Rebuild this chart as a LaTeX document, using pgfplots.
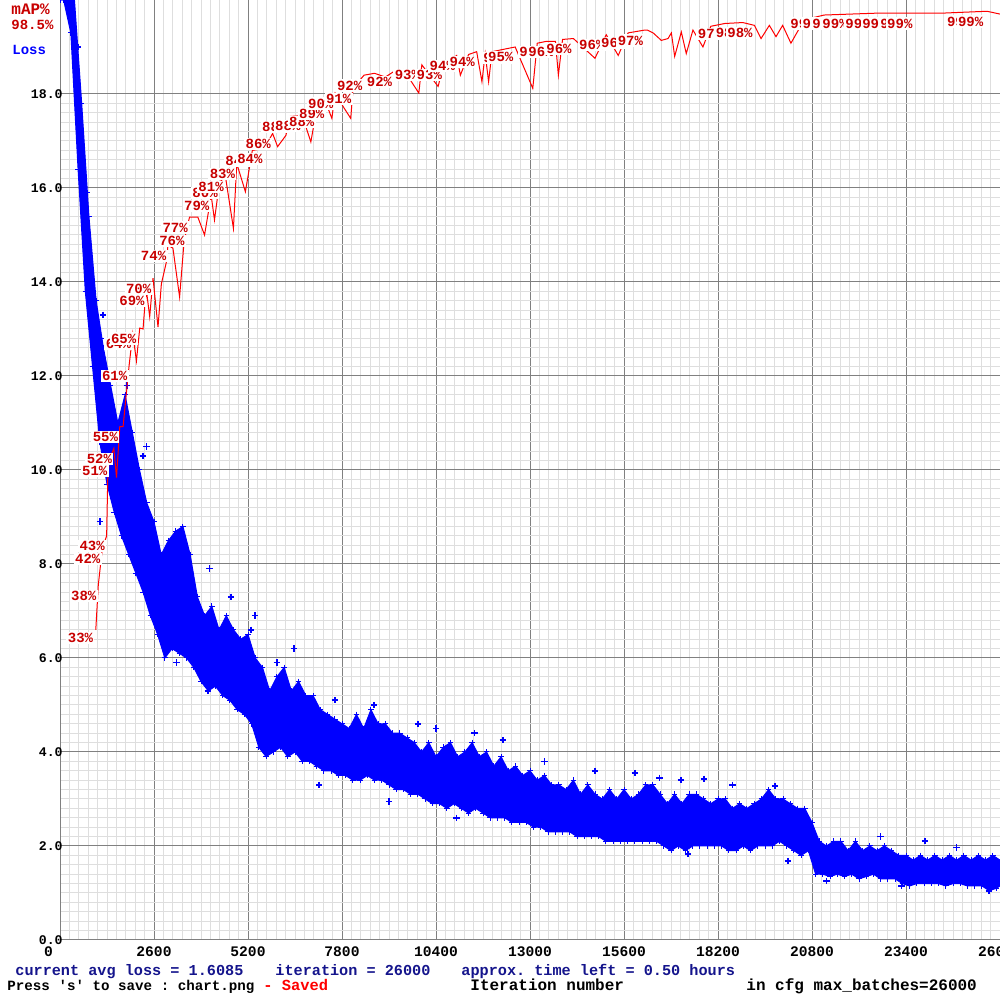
\documentclass[border=0pt]{standalone}
\usepackage{fontspec}
\setmonofont{Liberation Mono}
\usepackage{pgfplots}
\pgfplotsset{compat=1.18}
\usepgfplotslibrary{fillbetween}
\definecolor{mapred}{RGB}{200,0,0}
\definecolor{lossblue}{RGB}{0,0,255}
\definecolor{navytext}{RGB}{20,20,140}
\definecolor{majgrid}{RGB}{128,128,128}
\definecolor{mingrid}{RGB}{222,222,222}
\newcommand{\hf}{\ttfamily\bfseries}

\begin{document}
\begin{tikzpicture}
\begin{axis}[
  at={(30pt,30pt)}, anchor=south west,
  width=470pt, height=470pt, scale only axis,
  xmin=0, xmax=26000, ymin=0, ymax=20,
  axis x line*=bottom, axis y line*=left,
  axis line style={majgrid, line width=0.5pt, -},
  scaled x ticks=false, scaled y ticks=false,
  xtick={0,2600,5200,7800,10400,13000,15600,18200,20800,23400,26000},
  xticklabels={\makebox[0pt][r]{0\kern3.5pt},2600,5200,7800,10400,13000,15600,18200,20800,23400,26000},
  ytick={0,2,4,6,8,10,12,14,16,18},
  yticklabels={0.0,2.0,4.0,6.0,8.0,10.0,12.0,14.0,16.0,18.0},
  minor x tick num=9, minor y tick num=9,
  grid=both,
  major grid style={majgrid, line width=0.5pt},
  minor grid style={mingrid, line width=0.5pt},
  major tick length=0pt, minor tick length=0pt,
  xticklabel style={font=\hf\fontsize{7.3}{8}\selectfont, anchor=north, inner sep=0pt, yshift=-3pt},
  yticklabel style={font=\hf\fontsize{6.6}{8}\selectfont, anchor=east, inner sep=0pt, xshift=1.5pt},
  clip=true
]
% upper edge of the dense loss band
\addplot[name path=hi, lossblue, line width=0.5pt, mark=+, mark size=1.4pt] table {
x y
0 20
200 20
400 20
600 17.8
800 15.4
1000 13.6
1200 12.6
1400 11.8
1600 11.0
1800 11.6
2000 10.8
2200 10.0
2400 9.3
2600 8.9
2800 8.2
3000 8.5
3200 8.7
3400 8.8
3600 8.2
3800 7.3
4000 6.9
4200 7.1
4400 6.6
4600 6.9
4800 6.6
5000 6.4
5200 6.5
5400 6.0
5600 5.8
5800 5.3
6000 5.6
6200 5.8
6400 5.3
6600 5.5
6800 5.2
7000 5.2
7200 4.9
7400 4.8
7600 4.7
7800 4.6
8000 4.5
8200 4.8
8400 4.5
8600 4.9
8800 4.6
9000 4.6
9200 4.4
9400 4.4
9600 4.3
9800 4.2
10000 4.0
10200 4.2
10400 3.9
10600 4.1
10800 4.2
11000 3.9
11200 4.0
11400 4.2
11600 3.9
11800 4.0
12000 3.7
12200 3.9
12400 3.6
12600 3.7
12800 3.5
13000 3.6
13200 3.4
13400 3.5
13600 3.3
13800 3.3
14000 3.2
14200 3.4
14400 3.1
14600 3.3
14800 3.1
15000 3.0
15200 3.2
15400 3.0
15600 3.2
15800 3.0
16000 3.1
16200 3.3
16400 3.3
16600 3.1
16800 2.9
17000 3.1
17200 2.9
17400 3.1
17600 3.1
17800 3.0
18000 2.9
18200 3.0
18400 3.0
18600 2.8
18800 2.9
19000 2.8
19200 2.9
19400 3.0
19600 3.2
19800 3.0
20000 3.0
20200 2.9
20400 2.8
20600 2.8
20800 2.5
21000 2.1
21200 2.0
21400 2.1
21600 2.1
21800 1.9
22000 2.1
22200 1.9
22400 2.0
22600 1.9
22800 2.0
23000 1.9
23200 1.8
23400 1.8
23600 1.7
23800 1.8
24000 1.7
24200 1.8
24400 1.7
24600 1.8
24800 1.7
25000 1.8
25200 1.7
25400 1.8
25600 1.7
25800 1.8
26000 1.7
};
% lower edge of the dense loss band
\addplot[name path=lo, lossblue, line width=0.5pt, mark=+, mark size=1.4pt] table {
x y
0 20
100 20
300 19.3
500 16.4
700 13.8
900 12.2
1100 10.6
1300 9.7
1500 9.1
1700 8.6
1900 8.2
2100 7.8
2300 7.4
2500 6.9
2700 6.5
2900 6.0
3100 6.2
3300 6.1
3500 6.0
3700 5.8
3900 5.5
4100 5.3
4300 5.4
4500 5.2
4700 5.1
4900 4.9
5100 4.8
5300 4.6
5500 4.1
5700 3.9
5900 4.0
6100 4.1
6300 3.9
6500 4.0
6700 3.8
6900 3.8
7100 3.7
7300 3.6
7500 3.6
7700 3.5
7900 3.5
8100 3.4
8300 3.4
8500 3.5
8700 3.4
8900 3.4
9100 3.3
9300 3.2
9500 3.2
9700 3.1
9900 3.1
10100 3.0
10300 2.9
10500 2.9
10700 2.8
10900 2.9
11100 2.8
11300 2.7
11500 2.8
11700 2.7
11900 2.6
12100 2.6
12300 2.6
12500 2.5
12700 2.5
12900 2.5
13100 2.4
13300 2.4
13500 2.3
13700 2.3
13900 2.3
14100 2.3
14300 2.2
14500 2.2
14700 2.2
14900 2.2
15100 2.1
15300 2.1
15500 2.1
15700 2.1
15900 2.1
16100 2.1
16300 2.1
16500 2.1
16700 2.0
16900 1.9
17100 2.0
17300 1.9
17500 2.0
17700 2.0
17900 2.0
18100 2.0
18300 2.0
18500 1.9
18700 1.9
18900 2.0
19100 1.9
19300 2.0
19500 2.0
19700 2.0
19900 2.1
20100 2.0
20300 1.9
20500 1.8
20700 1.9
20900 1.4
21100 1.4
21300 1.35
21500 1.4
21700 1.35
21900 1.4
22100 1.3
22300 1.35
22500 1.4
22700 1.3
22900 1.3
23100 1.3
23300 1.2
23500 1.15
23700 1.2
23900 1.2
24100 1.2
24300 1.2
24500 1.15
24700 1.2
24900 1.2
25100 1.15
25300 1.15
25500 1.15
25700 1.05
25900 1.1
26000 1.15
};
\addplot[lossblue] fill between[of=hi and lo];
% scattered loss values outside the dense band
\addplot[only marks, mark=+, mark size=1.6pt, lossblue, line width=0.8pt] table {
x y
500 19.0
735 15.9
1100 8.9
1150 12.8
1190 13.3
1850 11.8
2290 10.3
2390 10.5
3220 5.9
4090 5.3
4140 7.9
4730 7.3
5290 6.6
5400 6.9
6000 5.9
6480 6.2
7170 3.3
7600 5.1
8690 5.0
9100 2.95
9900 4.6
10400 4.5
10970 2.6
11460 4.4
12250 4.25
13400 3.8
14800 3.6
15900 3.55
16580 3.45
17170 3.4
17370 1.83
17810 3.43
18600 3.3
19780 3.28
20130 1.68
21200 1.26
22690 2.2
23270 1.15
23920 2.1
24800 1.97
25690 1.04
};
\end{axis}

\begin{axis}[
  at={(30pt,30pt)}, anchor=south west,
  width=470pt, height=470pt, scale only axis,
  xmin=0, xmax=26000, ymin=0, ymax=100,
  hide axis, clip=false
]
\addplot[red, line width=0.5pt] table {
x y
990 33.0
1060 37.8
1170 41.6
1290 43.0
1320 49.0
1360 51.0
1490 52.3
1563 49.2
1654 54.6
1745 54.6
1911 61.1
2013 64.5
2114 61.6
2206 65.1
2297 65.0
2343 67.3
2390 69.1
2481 66.3
2573 70.4
2711 65.2
2804 69.8
2941 72.1
2986 73.9
3124 73.6
3308 68.4
3419 73.7
3493 75.5
3584 76.9
3813 76.9
3998 75.0
4182 79.2
4273 76.6
4411 80.6
4577 81.2
4797 75.7
4889 82.6
5128 79.6
5321 84.0
5652 84.2
5881 85.8
6019 84.4
6250 85.6
6341 87.6
6700 87.7
6938 84.9
7086 88.1
7361 89.0
7520 87.4
7610 90.1
7858 88.5
8042 87.4
8106 90.6
8409 92.0
8700 92.2
9000 91.8
9236 92.4
9500 92.6
9925 90.1
10008 93.1
10458 90.8
10614 93.1
10973 94.1
11074 92.0
11300 94.2
11525 94.5
11671 91.3
11760 94.3
11855 91.3
11950 94.5
12460 94.9
12590 95.0
13077 90.6
13200 95.4
13455 95.6
13703 95.6
13785 92.0
13900 95.8
14200 95.9
14797 93.8
15109 96.3
15440 94.1
15715 96.5
16175 96.8
16248 96.8
16405 96.5
16633 95.7
16818 95.9
16910 96.5
17002 94.0
17185 96.6
17322 94.3
17507 96.8
17783 95.0
18000 97.2
18390 97.5
18885 97.6
19207 97.3
19391 95.9
19620 97.3
19804 96.1
19988 97.3
20217 95.4
20586 97.9
21138 98.4
21870 98.5
22600 98.6
23500 98.6
24400 98.6
25640 98.8
26000 98.5
};
\addplot[draw=none, mark=none, point meta=explicit symbolic,
  nodes near coords={\pgfplotspointmeta\%},
  every node near coord/.append style={anchor=base east, yshift=-7.5pt,
    font=\hf\fontsize{7}{8}\selectfont, text=mapred, fill=white, inner sep=0.7pt}
] table[meta=lab] {
x y lab
965 33.2 33
1056 37.7 38
1167 41.6 42
1287 43.0 43
1359 51.0 51
1489 52.3 52
1654 54.6 55
1911 61.1 61
2013 64.5 64
2160 65.1 65
2390 69.1 69
2573 70.4 70
2986 73.9 74
3493 75.5 76
3584 76.9 77
4182 79.2 79
4411 80.6 80
4577 81.2 81
4889 82.6 83
5321 84.0 84
5652 84.2 84
5881 85.8 86
6341 87.6 88
6700 87.7 88
7086 88.1 88
7361 89.0 89
7610 90.1 90
8106 90.6 91
8409 92.0 92
9236 92.4 92
10008 93.1 93
10614 93.1 93
10973 94.1 94
11525 94.5 94
12460 94.9 95
12590 95.0 95
13455 95.6 95
13703 95.6 96
14200 95.9 96
15109 96.3 96
15715 96.5 96
16175 96.8 97
18390 97.5 97
18885 97.6 98
19207 97.6 98
20950 98.6 99
21285 98.6 99
21560 98.6 99
21836 98.6 99
22470 98.6 99
22939 98.6 99
23435 98.6 99
23628 98.6 99
25282 98.8 99
25585 98.8 99
};
\end{axis}

\node[anchor=base west, inner sep=0pt, text=mapred, font=\hf\fontsize{8}{9}\selectfont] at (5.5pt,492.5pt) {mAP\%};
\node[anchor=base west, inner sep=0pt, text=mapred, font=\hf\fontsize{7}{8}\selectfont] at (5.5pt,485pt) {98.5\%};
\node[anchor=base west, inner sep=0pt, text=lossblue, font=\hf\fontsize{7}{8}\selectfont] at (6pt,472.5pt) {Loss};

\node[anchor=base west, inner sep=0pt, text=navytext, font=\hf\fontsize{7.6}{9}\selectfont] at (7.5pt,12.5pt) {current avg loss = 1.6085};
\node[anchor=base west, inner sep=0pt, text=navytext, font=\hf\fontsize{7.6}{9}\selectfont] at (137.5pt,12.5pt) {iteration = 26000};
\node[anchor=base west, inner sep=0pt, text=navytext, font=\hf\fontsize{7.6}{9}\selectfont] at (230.5pt,12.5pt) {approx. time left = 0.50 hours};
\node[anchor=base west, inner sep=0pt, text=black, font=\hf\fontsize{7.1}{9}\selectfont] at (3.5pt,5pt) {Press 's' to save : chart.png};
\node[anchor=base west, inner sep=0pt, text=red, font=\hf\fontsize{7.7}{9}\selectfont] at (131.5pt,5pt) {- Saved};
\node[anchor=base west, inner sep=0pt, text=black, font=\hf\fontsize{8}{9}\selectfont] at (235pt,5pt) {Iteration number};
\node[anchor=base west, inner sep=0pt, text=black, font=\hf\fontsize{8}{9}\selectfont] at (373pt,5pt) {in cfg max\_batches=26000};

\pgfresetboundingbox
\useasboundingbox (0pt,0pt) rectangle (500pt,500pt);
\end{tikzpicture}
\end{document}
